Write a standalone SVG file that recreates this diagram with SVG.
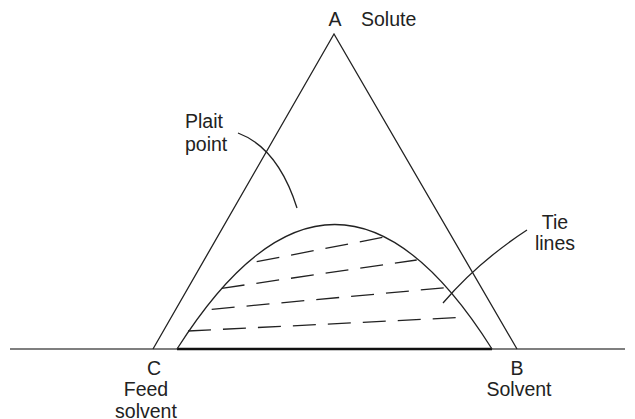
<svg xmlns="http://www.w3.org/2000/svg" width="635" height="419" viewBox="0 0 635 419">
<style>
.ln{fill:none;stroke:#222;stroke-width:1.3}
.tie{fill:none;stroke:#222;stroke-width:1.3;stroke-dasharray:23 12}
.t{font-family:"Liberation Sans",Arial,sans-serif;font-size:19.5px;fill:#222}
.m{text-anchor:middle}
</style>
<rect width="635" height="419" fill="#fff"/>
<g id="connectors">
<line x1="10" y1="349" x2="625" y2="349" stroke="#555" stroke-width="1.3"/>
<line x1="177" y1="349" x2="492" y2="349" stroke="#111" stroke-width="2.6"/>
<path class="ln" d="M153,349 L334,34 L517,349"/>
<path class="ln" d="M177,349 Q335,100 492,349"/>
<line class="tie" x1="188" y1="331" x2="459" y2="317.5"/>
<line class="tie" x1="211.7" y1="309.3" x2="445" y2="287.7"/>
<line class="tie" x1="221.7" y1="288.3" x2="416.7" y2="260"/>
<line class="tie" x1="256.7" y1="261.7" x2="383.3" y2="237.3"/>
<path class="ln" d="M238,133 Q278,148 297,208"/>
<path class="ln" d="M443,303 Q478,262 527,230"/>
</g>
<g id="nodeA"><text class="t" x="328.5" y="26">A</text><text class="t" x="361" y="26">Solute</text></g>
<g id="nodeC"><text class="t m" x="154" y="375">C</text><text class="t m" x="146" y="396">Feed</text><text class="t m" x="146" y="418">solvent</text></g>
<g id="nodeB"><text class="t m" x="517" y="375">B</text><text class="t m" x="519" y="396">Solvent</text></g>
<g id="plait"><text class="t" x="185" y="128">Plait</text><text class="t" x="185" y="151">point</text></g>
<g id="tielines"><text class="t m" x="555" y="229">Tie</text><text class="t m" x="555" y="250">lines</text></g>
</svg>
